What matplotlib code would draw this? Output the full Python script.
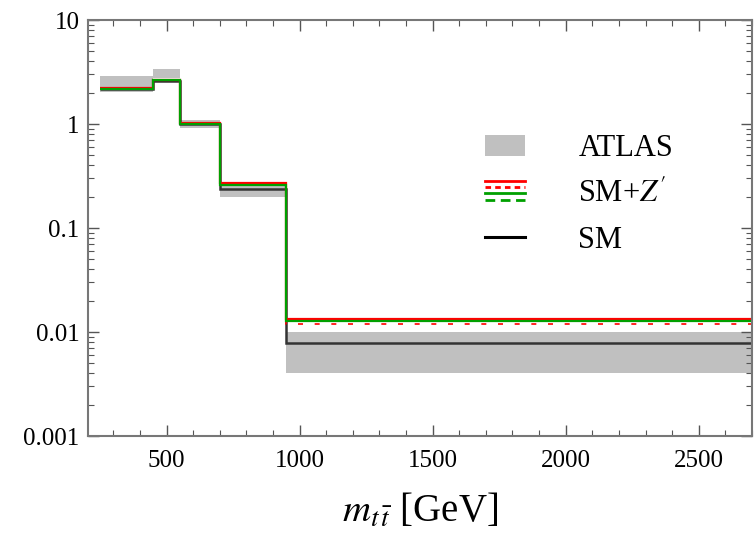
import matplotlib
matplotlib.use('Agg')
import matplotlib.pyplot as plt
from matplotlib.legend_handler import HandlerBase
from matplotlib.lines import Line2D
from matplotlib.patches import Patch
from matplotlib.ticker import MultipleLocator, LogLocator, NullFormatter, FixedLocator, FixedFormatter

plt.rcParams['font.family'] = ['Liberation Serif', 'DejaVu Serif']
plt.rcParams['mathtext.fontset'] = 'stix'

# bin edges in m_tt [GeV]
edges = [250, 450, 550, 700, 950, 2700]

# ATLAS band (low / high)
atlas_lo = [2.05, 2.75, 0.915, 0.20, 0.004]
atlas_hi = [2.90, 3.36, 1.09, 0.277, 0.010]

# SM prediction
sm = [2.15, 2.62, 0.99, 0.235, 0.0079]

# SM+Z' variants
zp_red_solid = [2.20, 2.65, 1.02, 0.272, 0.0133]
zp_red_dash = [2.20, 2.65, 1.02, 0.270, 0.0133]
zp_red_dot = [2.20, 2.65, 1.02, 0.265, 0.0119]
zp_green_solid = [2.18, 2.63, 1.00, 0.262, 0.0129]
zp_green_dash = [2.18, 2.63, 1.00, 0.260, 0.0129]

red = '#ff0000'
green = '#00a000'
grey = '#c0c0c0'
black = '#333333'

fig = plt.figure(figsize=(7.55, 5.35), dpi=100)
ax = fig.add_axes([0.1166, 0.185, 0.8794, 0.7776])

ax.stairs(atlas_hi, edges, baseline=atlas_lo, fill=True, color=grey, lw=0)
ax.stairs(sm, edges, baseline=None, color=black, lw=1.8)
ax.stairs(zp_red_solid, edges, baseline=None, color=red, lw=1.6)
ax.stairs(zp_red_dash, edges, baseline=None, color=red, lw=1.4, ls=(0, (7, 5)))
ax.stairs(zp_red_dot, edges, baseline=None, color=red, lw=1.2, ls=(0, (3, 7)))
ax.stairs(zp_green_dash, edges, baseline=None, color=green, lw=1.4, ls=(0, (6, 4)))
ax.stairs(zp_green_solid, edges, baseline=None, color=green, lw=1.6)

ax.set_yscale('log')
ax.set_xlim(205, 2700)
ax.set_ylim(0.001, 10)

ax.xaxis.set_major_locator(MultipleLocator(500))
ax.xaxis.set_minor_locator(MultipleLocator(100))
ax.yaxis.set_major_locator(FixedLocator([0.001, 0.01, 0.1, 1, 10]))
ax.yaxis.set_major_formatter(FixedFormatter(['0.001', '0.01', '0.1', '1', '10']))
ax.yaxis.set_minor_locator(LogLocator(base=10, subs=range(2, 10)))
ax.yaxis.set_minor_formatter(NullFormatter())

ax.tick_params(which='both', direction='in', top=True, right=True, colors='#555555',
               labelcolor='black', labelsize=18)
ax.tick_params(which='major', length=8, width=1)
ax.tick_params(which='minor', length=4, width=0.8)
ax.tick_params(axis='x', which='major', pad=10)
ax.tick_params(axis='y', which='major', pad=6)
for s in ax.spines.values():
    s.set_color('#777777')
    s.set_linewidth(1.5)

ax.set_xlabel(r'$m_{t\,\bar{t}}$ [GeV]', fontsize=28, labelpad=15)


class StackHandler(HandlerBase):
    def create_artists(self, legend, orig_handle, x0, y0, width, height, fontsize, trans):
        arts = []
        styles = [(red, '-', 2.0), (red, (0, (2.0, 1.5)), 2.0),
                  (green, '-', 2.0), (green, (0, (3.5, 2)), 2.0)]
        for i, (c, ls, lw) in enumerate(styles):
            yy = y0 + height * (1.0 - i * 0.3)
            ln = Line2D([x0, x0 + width], [yy, yy], color=c, ls=ls, lw=lw, transform=trans)
            arts.append(ln)
        return arts


zp_handle = object()
handles = [Patch(facecolor=grey, edgecolor='none'), zp_handle,
           Line2D([0], [0], color='black', lw=2.2)]
labels = ['ATLAS', "SM+$Z'$", 'SM']
ax.legend(handles, labels, handler_map={zp_handle: StackHandler()},
          loc='upper left', bbox_to_anchor=(0.598, 0.726), frameon=False,
          borderpad=0, borderaxespad=0,
          fontsize=22, handlelength=1.3, handleheight=0.7, handletextpad=1.75,
          labelspacing=0.55)

fig.savefig('out.png', dpi=100)
